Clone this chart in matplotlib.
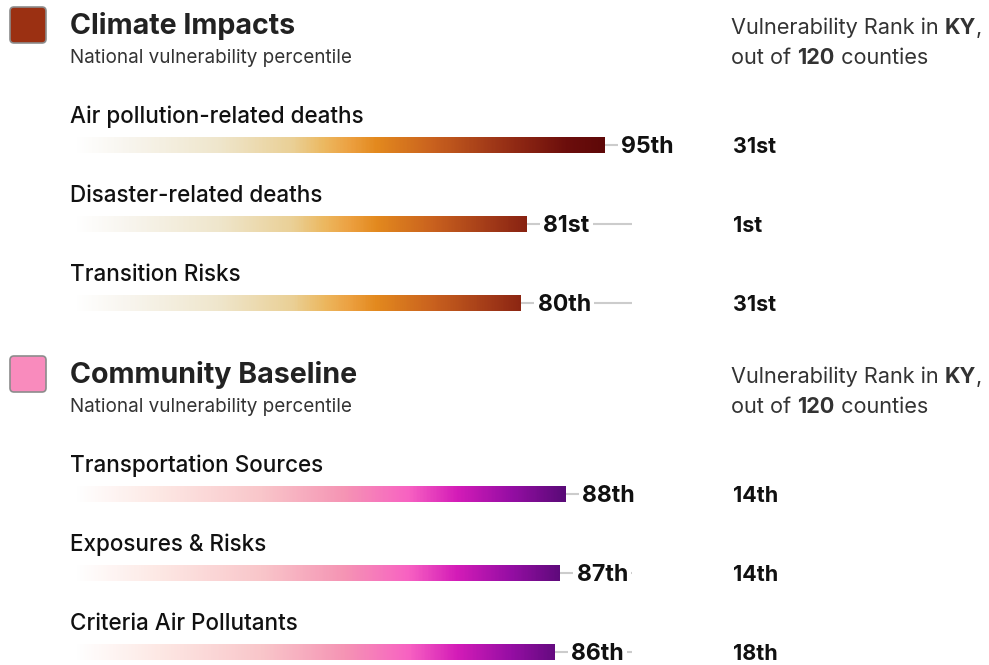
import numpy as np
import matplotlib
matplotlib.use("Agg")
import matplotlib.pyplot as plt
from matplotlib.colors import LinearSegmentedColormap
from matplotlib.patches import FancyBboxPatch

plt.rcParams['font.family'] = ['Inter', 'DejaVu Sans']

# data
group_titles = ['Climate Impacts', 'Community Baseline']
group_colors = ['#9b3012', '#f98bbd']
climate_labels = ['Air pollution-related deaths', 'Disaster-related deaths', 'Transition Risks']
climate_pct = [95, 81, 80]
climate_rank = [31, 1, 31]
community_labels = ['Transportation Sources', 'Exposures & Risks', 'Criteria Air Pollutants']
community_pct = [88, 87, 86]
community_rank = [14, 14, 18]
state = 'KY'
n_counties = 120

climate_cmap = LinearSegmentedColormap.from_list('climate', [
    (0.0, '#ffffff'), (0.1, '#f8f5ee'), (0.27, '#efe6cc'), (0.41, '#ead096'),
    (0.47, '#ecb860'), (0.52, '#eca040'), (0.57, '#e3891e'), (0.68, '#c8601e'),
    (0.79, '#a03818'), (0.85, '#8a2412'), (0.93, '#6c0e0c'), (1.0, '#5e0808')])
community_cmap = LinearSegmentedColormap.from_list('community', [
    (0.0, '#ffffff'), (0.17, '#fde8e4'), (0.38, '#f9c6ca'), (0.55, '#f594b4'),
    (0.68, '#f862c2'), (0.78, '#d41cb8'), (0.89, '#960ea4'), (1.0, '#5a0a78')])


def ordinal(n):
    if 10 <= n % 100 <= 20:
        suf = 'th'
    else:
        suf = {1: 'st', 2: 'nd', 3: 'rd'}.get(n % 10, 'th')
    return f'{n}{suf}'


W, H = 989, 665
fig = plt.figure(figsize=(W / 100, H / 100), dpi=100)
ax = fig.add_axes([0, 0, 1, 1])
ax.set_xlim(0, W)
ax.set_ylim(H, 0)
ax.axis('off')
renderer = fig.canvas.get_renderer()

X0 = 75          # bar start
SCALE = 5.57     # px per percentile
BAR_H = 16


def rich_line(x, y, parts, size, color):
    # parts: list of (text, weight)
    for txt, weight in parts:
        t = ax.text(x, y, txt, fontsize=size, fontweight=weight, color=color,
                    va='baseline', ha='left')
        bb = t.get_window_extent(renderer)
        x = bb.x1


def draw_group(top, title, color, labels, pct, rank, cmap):
    sq = FancyBboxPatch((10, top + 7), 36, 36, boxstyle='round,pad=0,rounding_size=4',
                        facecolor=color, edgecolor='#8c8c8c', lw=1.2)
    ax.add_patch(sq)
    ax.text(70, top + 34, title, fontsize=20.6, fontweight='bold', color='#222222', va='baseline')
    ax.text(70, top + 63, 'National vulnerability percentile', fontsize=13.6, color='#333333',
            va='baseline')
    rich_line(731, top + 34, [('Vulnerability Rank in ', 'normal'), (state, 'bold'), (',', 'normal')],
              15.6, '#333333')
    rich_line(731, top + 64, [('out of ', 'normal'), (str(n_counties), 'bold'), (' counties', 'normal')],
              15.6, '#333333')

    vmax = max(pct)
    for i, (lab, v, r) in enumerate(zip(labels, pct, rank)):
        ly = top + 123 + 79 * i
        by = top + 145 + 79 * i
        ax.text(70, ly, lab, fontsize=16.2, fontweight='medium', color='#111111', va='baseline')
        # grey track
        ax.plot([X0, X0 + 100 * SCALE], [by, by], color='#cccccc', lw=1.5, zorder=1,
                solid_capstyle='butt')
        xe = X0 + v * SCALE
        grad = cmap(np.linspace(0, v / vmax, 400))[None, :, :]
        ax.imshow(grad, extent=(X0, xe, by + BAR_H / 2, by - BAR_H / 2), aspect='auto',
                  interpolation='bilinear', zorder=2)
        ax.text(xe + 17, by + 8, ordinal(v), fontsize=16.6, fontweight='bold', color='#111111',
                va='baseline', ha='left', zorder=3,
                bbox=dict(boxstyle='square,pad=0.15', fc='white', ec='none'))
        ax.text(733, by + 8, ordinal(r), fontsize=15.5, fontweight='bold', color='#111111',
                va='baseline', ha='left')


draw_group(0, group_titles[0], group_colors[0], climate_labels, climate_pct, climate_rank,
           climate_cmap)
draw_group(349, group_titles[1], group_colors[1], community_labels, community_pct,
           community_rank, community_cmap)

ax.set_xlim(0, W)
ax.set_ylim(H, 0)
fig.savefig('out.png', dpi=100, facecolor='white')
